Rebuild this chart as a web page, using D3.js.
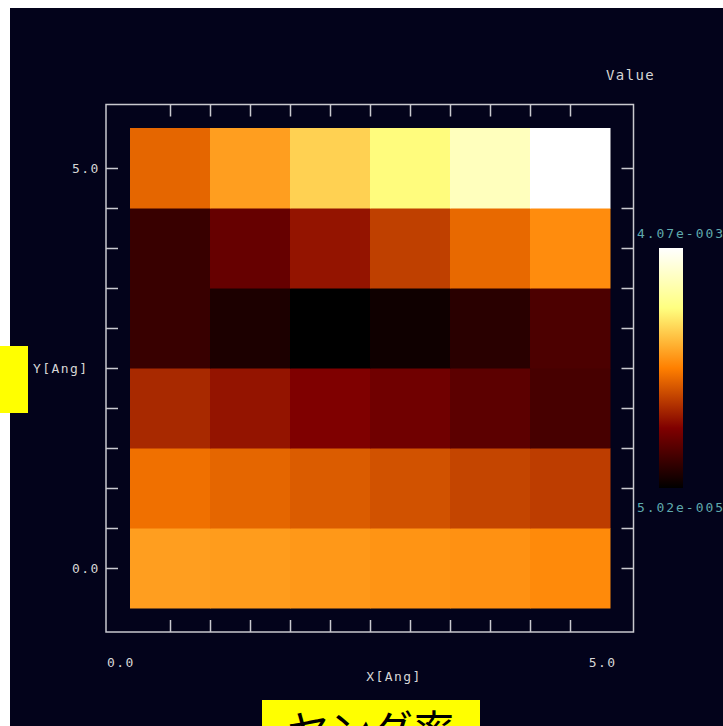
<!DOCTYPE html>
<html>
<head>
<meta charset="utf-8">
<script src="https://cdn.jsdelivr.net/npm/d3@7"></script>
<style>
  html, body { margin: 0; padding: 0; background: #ffffff; }
  svg { display: block; }
</style>
</head>
<body>
<div id="chart"></div>
<script>
// grid positions (Angstrom)
const xVals = [0, 1, 2, 3, 4, 5];
const yVals = [0, 1, 2, 3, 4, 5];

// values x 1e-3, one array per y row (y = 0 .. 5)
const rowY0 = [2.301, 2.281, 2.253, 2.221, 2.201, 2.141];
const rowY1 = [1.940, 1.859, 1.779, 1.698, 1.598, 1.538];
const rowY2 = [1.377, 1.216, 1.055, 0.935, 0.774, 0.613];
const rowY3 = [0.492, 0.271, 0.0502, 0.171, 0.372, 0.653];
const rowY4 = [0.492, 0.854, 1.216, 1.558, 1.879, 2.161];
const rowY5 = [1.859, 2.301, 2.703, 3.045, 3.547, 4.070];

const vMin = 0.0502, vMax = 4.07;
const minLabel = "5.02e-005", maxLabel = "4.07e-003";
const xTickLabels = ["0.0", "5.0"];
const yTickLabels = ["0.0", "5.0"];

const rows = [rowY0, rowY1, rowY2, rowY3, rowY4, rowY5];
let cells = [];
rows.forEach(function(row, j) {
    row.forEach(function(v, i) {
        cells.push({x: xVals[i], y: yVals[j], value: v});
    });
});

const width = 723, height = 726;
const bg = "#03031b";
const lineCol = "#c9c9cf";
const textCol = "#d6d6d6";
const mono = "'DejaVu Sans Mono', 'Liberation Mono', monospace";

// afmhot-like map
function afmhot(t) {
    let c = function(v) { return Math.round(255 * Math.max(0, Math.min(1, v))); };
    return `rgb(${c(2 * t)},${c(2 * t - 0.5)},${c(2 * t - 1)})`;
}

let svg = d3.select("#chart")
    .append("svg")
    .attr("width", width)
    .attr("height", height);

svg.append("rect")
    .attr("x", 10).attr("y", 8)
    .attr("width", width - 10).attr("height", height - 8)
    .attr("fill", bg);

let x = d3.scaleLinear().domain([-0.5, 5.5]).range([130, 610]);
let y = d3.scaleLinear().domain([-0.5, 5.5]).range([608, 128]);
let color = d3.scaleSequential(afmhot).domain([vMin, vMax]);

let cellW = x(1) - x(0), cellH = y(0) - y(1);

svg.append("g").selectAll("rect")
    .data(cells)
    .enter()
    .append("rect")
    .attr("x", function(d) { return x(d.x) - cellW / 2; })
    .attr("y", function(d) { return y(d.y) - cellH / 2; })
    .attr("width", cellW + 0.5)
    .attr("height", cellH + 0.5)
    .attr("fill", function(d) { return color(d.value); });

// frame
let fx0 = x(-0.5) - 24, fx1 = x(5.5) + 23.5, fy0 = y(5.5) - 23.5, fy1 = y(-0.5) + 24;
svg.append("rect")
    .attr("x", fx0).attr("y", fy0)
    .attr("width", fx1 - fx0).attr("height", fy1 - fy0)
    .attr("fill", "none")
    .attr("stroke", lineCol)
    .attr("stroke-width", 1.5);

let tickVals = d3.range(0, 5.01, 0.5);
function styleAxis(g) {
    g.select(".domain").remove();
    g.selectAll("line").attr("stroke", lineCol).attr("stroke-width", 1.5);
    g.selectAll("text").remove();
}
svg.append("g").attr("transform", `translate(0,${fy0})`)
    .call(d3.axisBottom(x).tickValues(tickVals).tickSize(12)).call(styleAxis);
svg.append("g").attr("transform", `translate(0,${fy1})`)
    .call(d3.axisTop(x).tickValues(tickVals).tickSize(12)).call(styleAxis);
svg.append("g").attr("transform", `translate(${fx0},0)`)
    .call(d3.axisRight(y).tickValues(tickVals).tickSize(12)).call(styleAxis);
svg.append("g").attr("transform", `translate(${fx1},0)`)
    .call(d3.axisLeft(y).tickValues(tickVals).tickSize(12)).call(styleAxis);

function label(xp, yp, txt, anchor, size) {
    return svg.append("text").attr("x", xp).attr("y", yp)
        .attr("text-anchor", anchor || "start")
        .text(txt)
        .style("font-family", mono)
        .style("font-size", (size || 13) + "px")
        .style("letter-spacing", "1.4px")
        .attr("fill", textCol);
}

// tick labels
label(72, y(5) + 5, yTickLabels[1]);
label(72, y(0) + 5, yTickLabels[0]);
label(fx0 + 1, 667, xTickLabels[0]);
label(fx1 - 17, 667, xTickLabels[1], "end");

// axis titles
label(394, 681, "X[Ang]", "middle");
label(33, 373, "Y[Ang]");
label(606, 80, "Value", "start", 14);

// colour bar
let cb = y.copy().domain([vMin, vMax]).range([488, 248]);
let grad = svg.append("defs").append("linearGradient")
    .attr("id", "cbar").attr("x1", 0).attr("y1", 1).attr("x2", 0).attr("y2", 0);
grad.selectAll("stop")
    .data(d3.range(0, 1.001, 0.05))
    .enter()
    .append("stop")
    .attr("offset", function(d) { return d; })
    .attr("stop-color", function(d) { return afmhot(d); });
svg.append("rect")
    .attr("x", 659).attr("y", cb(vMax))
    .attr("width", 24).attr("height", cb(vMin) - cb(vMax))
    .attr("fill", "url(#cbar)");

svg.append("text").attr("x", 637).attr("y", cb(vMax) - 10)
    .text(maxLabel).style("font-family", mono).style("font-size", "13px")
    .attr("textLength", 86).attr("fill", "#5fa9ad");
svg.append("text").attr("x", 637).attr("y", cb(vMin) + 24)
    .text(minLabel).style("font-family", mono).style("font-size", "13px")
    .attr("textLength", 86).attr("fill", "#5fa9ad");

// yellow labels
svg.append("rect").attr("x", 0).attr("y", 346).attr("width", 28).attr("height", 67).attr("fill", "#ffff00");
svg.append("rect").attr("x", 262).attr("y", 700).attr("width", 218).attr("height", 30).attr("fill", "#ffff00");
svg.append("text").attr("x", 371).attr("y", 746).attr("text-anchor", "middle")
    .text("ヤング率")
    .style("font-family", "'Noto Sans CJK JP', sans-serif")
    .style("font-size", "42px")
    .attr("fill", "#000");
</script>
</body>
</html>
